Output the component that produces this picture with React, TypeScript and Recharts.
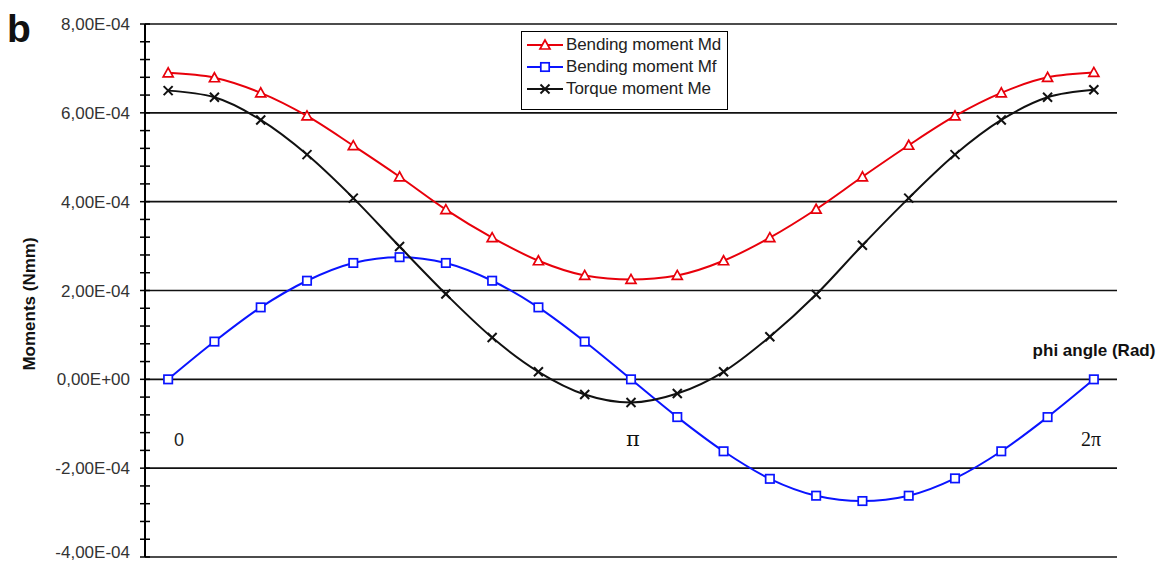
import { LineChart, Line, XAxis, YAxis, ReferenceLine, Legend } from "recharts"

// phi sampled every 18 degrees (pi/10), 0 .. 2pi
const phiDeg = [0, 18, 36, 54, 72, 90, 108, 126, 144, 162, 180, 198, 216, 234, 252, 270, 288, 306, 324, 342, 360]

// values, in units of 1E-04 Nmm
const mdValues = [6.9, 6.79, 6.45, 5.93, 5.26, 4.56, 3.82, 3.19, 2.67, 2.34, 2.25, 2.34, 2.67, 3.19, 3.83, 4.56, 5.27, 5.93, 6.45, 6.8, 6.91]
const mfValues = [0, 0.85, 1.62, 2.22, 2.62, 2.75, 2.62, 2.22, 1.62, 0.85, 0, -0.85, -1.62, -2.24, -2.62, -2.74, -2.62, -2.23, -1.62, -0.85, 0]
const meValues = [6.5, 6.35, 5.84, 5.06, 4.08, 2.99, 1.92, 0.94, 0.17, -0.34, -0.52, -0.32, 0.17, 0.96, 1.91, 3.02, 4.08, 5.06, 5.84, 6.35, 6.52]

const majorTicks = [-4e-4, -2e-4, 0, 2e-4, 4e-4, 6e-4, 8e-4]
const majorLabels = ["-4,00E-04", "-2,00E-04", "0,00E+00", "2,00E-04", "4,00E-04", "6,00E-04", "8,00E-04"]

const seriesNames = ["Bending moment Md", "Bending moment Mf", "Torque moment Me"]
const xLabels = ["0", "\u03c0", "2\u03c0"]

// 5 minor divisions per major step
const yTicks = majorTicks
  .slice(0, -1)
  .flatMap((v, k) => [0, 1, 2, 3, 4].map((j) => v + (j * (majorTicks[k + 1] - v)) / 5))
  .concat(majorTicks[majorTicks.length - 1])

const data = phiDeg.map((phi, i) => ({
  phi,
  md: mdValues[i] * 1e-4,
  mf: mfValues[i] * 1e-4,
  me: meValues[i] * 1e-4,
}))

const FONT = '"Liberation Sans", Arial, sans-serif'
const RED = "#e8000b"
const BLUE = "#0a14ff"
const BLACK = "#111"

function Triangle({ cx, cy, color }: any) {
  const s = 5
  return (
    <polygon
      points={`${cx},${cy - s} ${cx - s},${cy + s * 0.8} ${cx + s},${cy + s * 0.8}`}
      fill="#fff"
      stroke={color}
      strokeWidth={1.7}
    />
  )
}

function Square({ cx, cy, color }: any) {
  const s = 4.2
  return <rect x={cx - s} y={cy - s} width={s * 2} height={s * 2} fill="#fff" stroke={color} strokeWidth={1.7} />
}

function Cross({ cx, cy, color }: any) {
  const s = 4.5
  return (
    <g stroke={color} strokeWidth={2}>
      <line x1={cx - s} y1={cy - s} x2={cx + s} y2={cy + s} />
      <line x1={cx - s} y1={cy + s} x2={cx + s} y2={cy - s} />
    </g>
  )
}

const markers = [
  { key: "md", color: RED, Marker: Triangle },
  { key: "mf", color: BLUE, Marker: Square },
  { key: "me", color: BLACK, Marker: Cross },
]

function YTick({ x, y, payload }: any) {
  const idx = majorTicks.findIndex((m) => Math.abs(m - payload.value) < 1e-9)
  // lowest label sits at the page edge, nudge it up so it is not cut
  const dy = idx === 0 ? 1 : 6
  return (
    <g>
      <line x1={x + 10} x2={x + 20} y1={y} y2={y} stroke="#000" strokeWidth={1.5} />
      {idx >= 0 && (
        <text x={x} y={y} dy={dy} textAnchor="end" fontSize={17} fontFamily={FONT} fill="#333">
          {majorLabels[idx]}
        </text>
      )}
    </g>
  )
}

function LegendBox() {
  return (
    <div
      style={{
        border: "1.5px solid #000",
        background: "#fff",
        width: 205,
        height: 75,
        boxSizing: "content-box",
        paddingTop: 2,
        fontFamily: FONT,
        fontSize: 17,
        color: "#222",
      }}
    >
      {markers.map(({ key, color, Marker }, i) => (
        <div key={key} style={{ display: "flex", alignItems: "center", height: 22, whiteSpace: "nowrap" }}>
          <svg width={42} height={14} style={{ marginLeft: 4, flex: "none" }}>
            <line x1={1} x2={37} y1={7} y2={7} stroke={color} strokeWidth={2} />
            <Marker cx={19} cy={7} color={color} />
          </svg>
          <span style={{ marginLeft: -2, letterSpacing: -0.1 }}>{seriesNames[i]}</span>
        </div>
      ))}
    </div>
  )
}

export default function App() {
  return (
    <div style={{ position: "absolute", left: 0, top: 0, width: 1158, height: 564, background: "#fff" }}>
      <LineChart width={1158} height={564} data={data} margin={{ top: 24, right: 41, bottom: 7, left: 0 }}>
        <XAxis dataKey="phi" type="number" domain={[-9, 369]} hide />
        <YAxis
          type="number"
          domain={[-4e-4, 8e-4]}
          ticks={yTicks}
          interval={0}
          width={145}
          tickSize={5}
          tickMargin={10}
          tickLine={false}
          axisLine={{ stroke: "#000", strokeWidth: 2 }}
          tick={<YTick />}
        />
        {majorTicks.map((v) => (
          <ReferenceLine key={v} y={v} stroke="#111" strokeWidth={1.7} ifOverflow="visible" />
        ))}
        {markers.map(({ key, color, Marker }, i) => (
          <Line
            key={key}
            dataKey={key}
            name={seriesNames[i]}
            type="monotone"
            stroke={color}
            strokeWidth={2}
            isAnimationActive={false}
            dot={(p: any) => <Marker key={`${key}-${p.index}`} cx={p.cx} cy={p.cy} color={color} />}
            activeDot={false}
          />
        ))}
        <Legend
          layout="vertical"
          align="center"
          verticalAlign="middle"
          content={<LegendBox />}
          wrapperStyle={{ left: 521, top: 31, width: 210, height: 80 }}
        />
      </LineChart>
      <svg
        width={1158}
        height={564}
        style={{ position: "absolute", left: 0, top: 0, pointerEvents: "none" }}
        fontFamily={FONT}
      >
        <text x={7} y={42} fontSize={39} fontWeight="bold" fill="#111">
          b
        </text>
        <text transform="translate(35,304) rotate(-90)" textAnchor="middle" fontSize={17} fontWeight="bold" fill="#111">
          Moments (Nmm)
        </text>
        <text x={1094} y={356} textAnchor="middle" fontSize={17} fontWeight="bold" fill="#111">
          phi angle (Rad)
        </text>
        <text x={179} y={446} textAnchor="middle" fontSize={18} fill="#222">
          {xLabels[0]}
        </text>
        <text x={633} y={446} textAnchor="middle" fontSize={21} fontFamily='"DejaVu Serif", serif' fill="#111">
          {xLabels[1]}
        </text>
        <text x={1091} y={446} textAnchor="middle" fontSize={20} fontFamily='"Liberation Serif", serif' fill="#111">
          {xLabels[2]}
        </text>
      </svg>
    </div>
  )
}
